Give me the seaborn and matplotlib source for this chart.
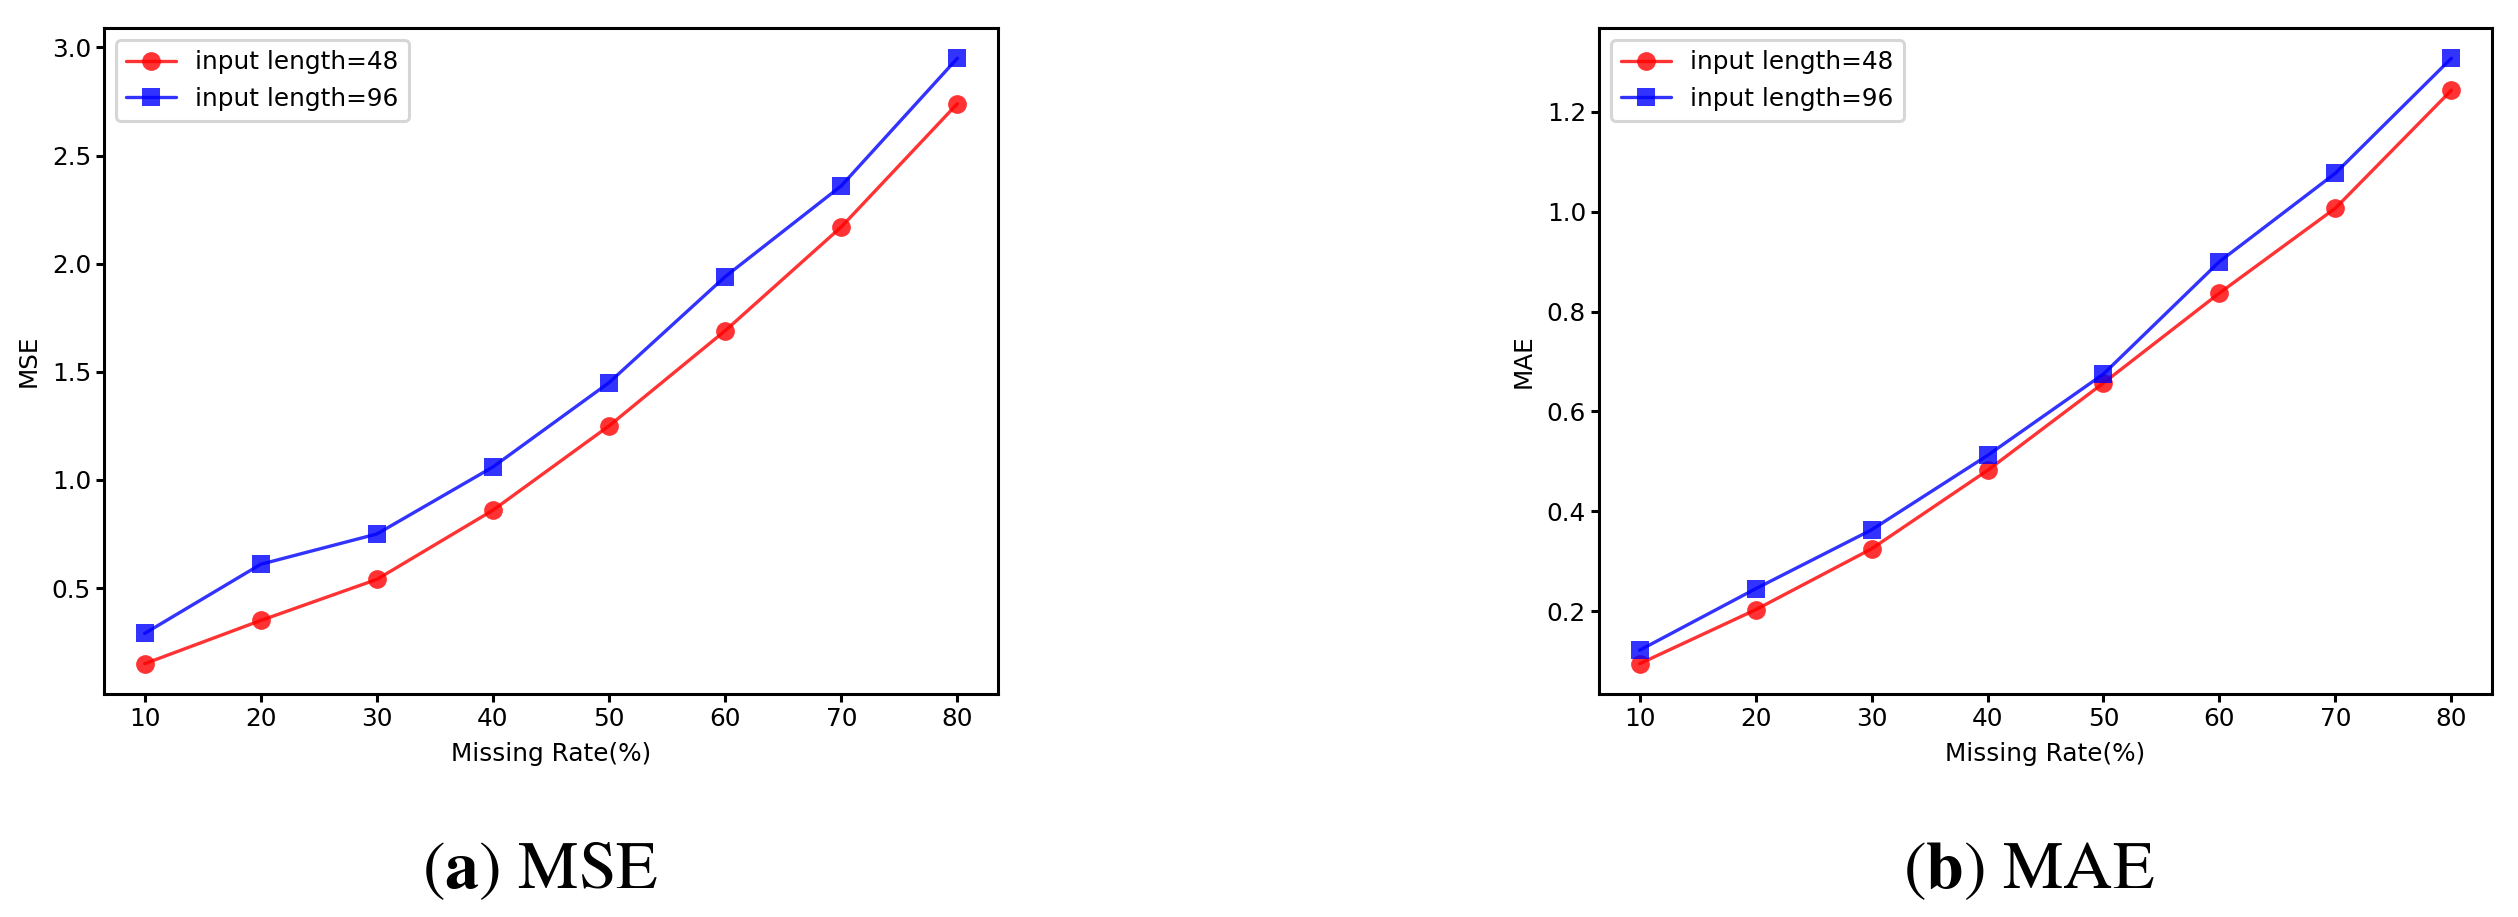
import matplotlib
matplotlib.use("Agg")
import matplotlib.pyplot as plt
import seaborn as sns
import pandas as pd

rates = [10, 20, 30, 40, 50, 60, 70, 80]
series_names = ["input length=48", "input length=96"]
mse_48 = [0.15, 0.35, 0.54, 0.86, 1.25, 1.69, 2.17, 2.74]
mse_96 = [0.29, 0.61, 0.75, 1.06, 1.45, 1.94, 2.36, 2.95]
mae_48 = [0.095, 0.203, 0.325, 0.482, 0.657, 0.837, 1.007, 1.243]
mae_96 = [0.122, 0.245, 0.363, 0.512, 0.675, 0.900, 1.077, 1.307]
captions = [r"$(\mathbf{a})\ \mathrm{MSE}$", r"$(\mathbf{b})\ \mathrm{MAE}$"]
ylabels = ["MSE", "MAE"]
xlabel = "Missing Rate(%)"

sns.set_theme(style="white")
plt.rcParams.update({
    "font.family": ["DejaVu Sans"],
    "axes.edgecolor": "black",
    "axes.linewidth": 2.2,
    "xtick.bottom": True, "ytick.left": True,
    "xtick.major.size": 5.8, "ytick.major.size": 5.8,
    "xtick.major.width": 2.2, "ytick.major.width": 2.2,
    "xtick.color": "black", "ytick.color": "black",
    "axes.labelcolor": "black", "text.color": "black",
    "xtick.labelsize": 17.8, "ytick.labelsize": 17.8,
    "axes.labelsize": 17.8,
    "mathtext.fontset": "stix",
})

def make_df(a, b):
    return pd.DataFrame({
        "rate": rates * 2,
        "value": list(a) + list(b),
        "series": [series_names[0]] * len(rates) + [series_names[1]] * len(rates),
    })

fig = plt.figure(figsize=(25.18, 9.17), dpi=100)
ax1 = fig.add_axes([104 / 2518, 1 - 694 / 917, (998 - 104) / 2518, (694 - 28) / 917])
ax2 = fig.add_axes([1599 / 2518, 1 - 694 / 917, (2492 - 1599) / 2518, (694 - 28) / 917])

palette = {series_names[0]: "red", series_names[1]: "blue"}
markers = {series_names[0]: "o", series_names[1]: "s"}

for ax, (a, b), yl in zip([ax1, ax2], [(mse_48, mse_96), (mae_48, mae_96)], ylabels):
    df = make_df(a, b)
    sns.lineplot(data=df, x="rate", y="value", hue="series", style="series",
                 palette=palette, markers=markers, dashes=False,
                 markersize=13.5, linewidth=2.4, alpha=0.8, markeredgewidth=0, ax=ax)
    ax.set_xticks(rates)
    ax.set_xlabel(xlabel, labelpad=8)
    ax.set_ylabel(yl, labelpad=8)
    for s in ax.spines.values():
        s.set_visible(True)
        s.set_color("black")
    leg = ax.legend(*ax.get_legend_handles_labels(), loc="upper left", fontsize=17.8,
                    frameon=True, fancybox=True, framealpha=0.8, edgecolor="0.8")
    leg.get_frame().set_linewidth(2.2)
    for h in leg.legend_handles:
        h.set_alpha(0.8)

fig.text(540 / 2518, 29 / 917, captions[0], fontsize=49, ha="center", va="baseline")
fig.text(2029 / 2518, 29 / 917, captions[1], fontsize=49, ha="center", va="baseline")

fig.savefig("out.png", dpi=100)
